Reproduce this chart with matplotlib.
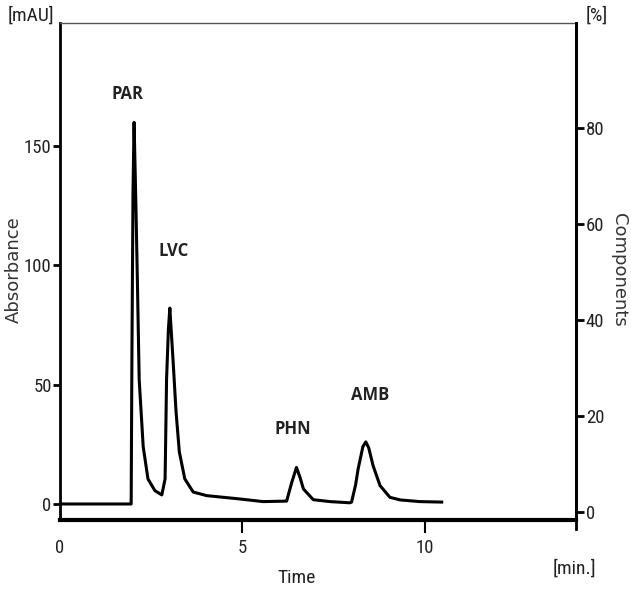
import matplotlib.pyplot as plt
from matplotlib import font_manager

# Chromatogram trace (time in min, absorbance in mAU)
time_min = [0.00, 1.95, 1.97, 2.00, 2.03, 2.08, 2.12, 2.17, 2.28, 2.41, 2.60, 2.79,
            2.88, 2.92, 2.97, 3.01, 3.10, 3.18, 3.27, 3.42, 3.65, 4.02, 4.93, 5.56,
            6.21, 6.35, 6.48, 6.58, 6.67, 6.94, 7.40, 7.94, 7.99, 8.10, 8.17, 8.30,
            8.38, 8.46, 8.58, 8.77, 9.04, 9.32, 9.86, 10.46]
absorbance = [0.0, 0.0, 60.0, 130.0, 159.7, 125.0, 94.0, 52.0, 24.0, 10.5, 5.6, 3.8,
              10.5, 52.0, 73.0, 82.0, 59.6, 38.6, 21.8, 10.5, 5.0, 3.5, 2.1, 1.0,
              1.2, 9.0, 15.3, 11.0, 6.3, 1.8, 1.0, 0.5, 0.8, 8.0, 14.7, 24.0,
              26.0, 23.5, 16.0, 7.7, 2.8, 1.7, 1.0, 0.8]

# Peak names and where their labels sit
peak_names = ['PAR', 'LVC', 'PHN', 'AMB']
label_t = [1.84, 3.10, 6.38, 8.49]
label_a = [171.4, 105.9, 31.5, 45.8]

left_ticks = [0, 50, 100, 150]
right_ticks = [0, 20, 40, 60, 80]
x_ticks = [0, 5, 10]

# narrow font for the axis numbers, if one is around
names = {f.name for f in font_manager.fontManager.ttflist}
narrow = 'DejaVu Sans'
for cand in ['Liberation Sans Narrow', 'Roboto Condensed', 'Open Sans Condensed', 'DejaVu Sans Condensed']:
    if cand in names:
        narrow = cand
        break
num_font = dict(family=narrow, stretch='condensed')
txt_col = '#222222'
num_size = 13.5

fig = plt.figure(figsize=(6.31, 5.90), dpi=100)
ax = fig.add_axes([60 / 631, 1 - 520 / 590, 516 / 631, 497 / 590])

ax.plot(time_min, absorbance, color='black', lw=2.2, solid_joinstyle='round')

ax.set_xlim(0, 14.14)
ax.set_ylim(-6.7, 201.3)
ax.set_xticks(x_ticks)
ax.set_yticks(left_ticks)
ax.tick_params(axis='x', direction='out', length=9, width=1.5, pad=5, labelsize=num_size, labelcolor=txt_col)
ax.tick_params(axis='y', direction='out', length=5, width=2, pad=1, labelsize=num_size, labelcolor=txt_col)
ax.get_xticklines()[0].set_visible(False)
for lab in ax.get_xticklabels() + ax.get_yticklabels():
    lab.set(**num_font)

ax.spines['left'].set_linewidth(2)
ax.spines['bottom'].set_linewidth(3)
ax.spines['right'].set_linewidth(2)
ax.spines['top'].set_linewidth(1)
ax.spines['top'].set_color('#555555')

ax2 = ax.twinx()
ax2.set_ylim(-1.67, 101.9)
ax2.set_yticks(right_ticks)
ax2.tick_params(axis='y', direction='out', length=6, width=2, pad=1, labelsize=num_size, labelcolor=txt_col)
for lab in ax2.get_yticklabels():
    lab.set(**num_font)
ax2.spines['right'].set_linewidth(2)
ax2.spines['right'].set_bounds(-3.5, 101.9)
for s in ['left', 'top', 'bottom']:
    ax2.spines[s].set_visible(False)

for name, t, a in zip(peak_names, label_t, label_a):
    ax.text(t, a, name, ha='center', va='center', fontsize=12, fontweight='bold',
            family=['Open Sans', 'DejaVu Sans'], color='#222222')

fig.text(14 / 631, 1 - 270 / 590, 'Absorbance', rotation=90, ha='center', va='center',
         fontsize=13, color='#333333', family='DejaVu Sans')
fig.text(619 / 631, 1 - 270 / 590, 'Components', rotation=270, ha='center', va='center',
         fontsize=13, color='#333333', family='DejaVu Sans')
fig.text(297 / 631, 1 - 578 / 590, 'Time', ha='center', va='center', fontsize=14,
         color=txt_col, **num_font)
fig.text(31 / 631, 1 - 16 / 590, '[mAU]', ha='center', va='center', fontsize=14,
         color=txt_col, **num_font)
fig.text(597 / 631, 1 - 16 / 590, '[%]', ha='center', va='center', fontsize=14,
         color=txt_col, **num_font)
fig.text(574 / 631, 1 - 569 / 590, '[min.]', ha='center', va='center', fontsize=14,
         color=txt_col, **num_font)

fig.savefig('out.png', dpi=100)
